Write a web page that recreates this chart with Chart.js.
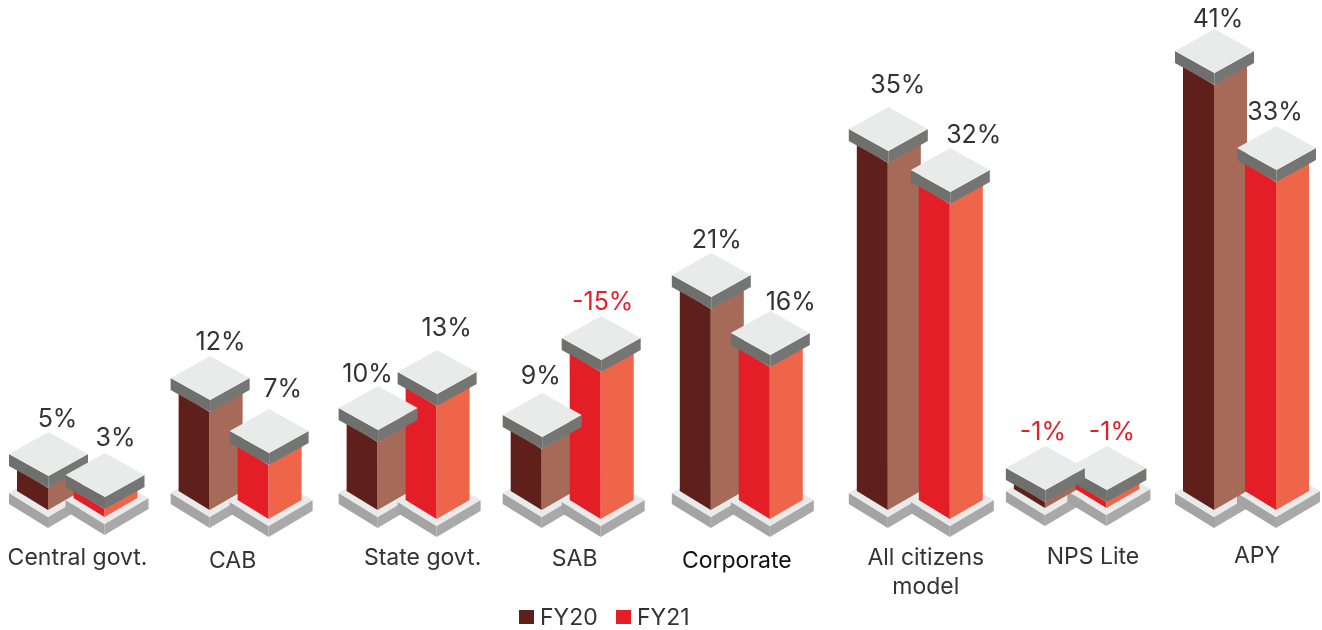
<!DOCTYPE html>
<html>
<head>
<meta charset="utf-8">
<title>FY20 / FY21 growth by sector</title>
<script src="https://cdn.jsdelivr.net/npm/chart.js@4"></script>
<style>
  html, body { margin: 0; padding: 0; background: #fff; }
  canvas { display: block; }
</style>
</head>
<body>
<canvas id="growthChart" width="1322" height="630"></canvas>
<script>
// Chart data
const categories = ['Central govt.', 'CAB', 'State govt.', 'SAB', 'Corporate', ['All citizens', 'model'], 'NPS Lite', 'APY'];
const seriesNames = ['FY20', 'FY21'];

// Printed labels
const fy20Labels = [5, 12, 10, 9, 21, 35, -1, 41];
const fy21Labels = [3, 7, 13, -15, 16, 32, -1, 33];

// Column heights as drawn in the picture (they do not follow the labels exactly)
const fy20Heights = [2.2, 9.8, 6.8, 6.1, 20.1, 34.7, 0.6, 42.5];
const fy21Heights = [0.8, 5.4, 11.3, 14.7, 15.2, 31.5, 0.6, 32.8];

// Hand placement, the original layout is not evenly spaced
const fy20ShiftX = [1.5, -3.9, -2.9, -5.8, -3.7, 6.3, -3.6, -1.5];
const fy21ShiftX = [-1, -3.9, -2.9, -5.8, -3.7, 9.3, -1.1, 1.5];
const fy20ShiftY = [0, 0, 0, 0, 0, 0, -2, 0];
const fy21ShiftY = [7, 9, 9, 9, 9, 9, -2, 0];
const fy20LabelPos = [[9.5, -13], [11, -14], [-10, -12], [-1, -17], [6, -13], [10, -22], [-2, -14], [4, -10]];
const fy21LabelPos = [[11, -15], [14, -20], [10, -22], [2, -14], [21, -9], [24, -13], [5.5, -14], [-1, -14]];
const tickShiftX = [1.5, -10.4, 12.6, -2.3, -7.2, 14.8, 14.9, 12];
const tickY = [558, 561, 558, 559, 561, 558, 557, 556];

const fontName = 'Inter, Roboto, sans-serif';
const textColor = '#333333';
const negativeColor = '#e5202a';
const fy20Faces = ['#5f201b', '#a66a58'];
const fy21Faces = ['#e31e26', '#ee654a'];

function poly(ctx, color, pts) {
  ctx.fillStyle = color;
  ctx.beginPath();
  pts.forEach((p, i) => (i ? ctx.lineTo(p[0], p[1]) : ctx.moveTo(p[0], p[1])));
  ctx.closePath();
  ctx.fill();
}

// Ground plate under one column, (x, base) is the foot of the front edge
function drawPlate(ctx, x, base) {
  const left = 39, right = 44, riseL = 24, riseR = 26, t = 11, top = base + 7;
  poly(ctx, '#a4a4a4', [[x - left, top - riseL], [x, top], [x, top + t], [x - left, top - riseL + t]]);
  poly(ctx, '#a9a9a9', [[x + right, top - riseR], [x, top], [x, top + t], [x + right, top - riseR + t]]);
  poly(ctx, '#e9ebea', [[x - left, top - riseL], [x + 2.5, top - 50], [x + right, top - riseR], [x, top]]);
}

function drawFaces(ctx, x, y, base, faces) {
  const left = 31, right = 33, rise = 19;
  poly(ctx, faces[0], [[x - left, base - rise], [x, base], [x, y], [x - left, y - rise]]);
  poly(ctx, faces[1], [[x + right, base - rise], [x, base], [x, y], [x + right, y - rise]]);
}

// Grey slab on top of a column, (x, y) is the lowest point of the slab
function drawCap(ctx, x, y) {
  const hw = 39.5, hh = 22, t = 12, front = y - t;
  const cx = x + 0.5;
  poly(ctx, '#6f706d', [[cx - hw, front - hh], [cx, front], [cx, y], [cx - hw, front - hh + t]]);
  poly(ctx, '#757673', [[cx + hw, front - hh], [cx, front], [cx, y], [cx + hw, front - hh + t]]);
  poly(ctx, '#e9ebea', [[cx - hw, front - hh], [cx, front - 2 * hh], [cx + hw, front - hh], [cx, front]]);
}

function drawValueLabel(ctx, value, x, capTop) {
  ctx.fillStyle = value < 0 ? negativeColor : textColor;
  ctx.fillText(value + '%', x, capTop);
}

const isoBars = {
  id: 'isoBars',
  // the library still lays the bars out, only the painting is done below
  beforeDatasetDraw() {
    return false;
  },
  afterDatasetsDraw(chart) {
    const ctx = chart.ctx;
    const a = chart.getDatasetMeta(0).data;
    const b = chart.getDatasetMeta(1).data;
    ctx.save();
    categories.forEach((cat, i) => {
      const x1 = a[i].x + fy20ShiftX[i], y1 = a[i].y + fy20ShiftY[i], base1 = a[i].base + fy20ShiftY[i];
      const x2 = b[i].x + fy21ShiftX[i], y2 = b[i].y + fy21ShiftY[i], base2 = b[i].base + fy21ShiftY[i];
      drawPlate(ctx, x1, base1);
      drawPlate(ctx, x2, base2);
      drawFaces(ctx, x1, y1, base1, fy20Faces);
      drawFaces(ctx, x2, y2, base2, fy21Faces);
      // the slab lower on the page sits in front, FY20 wins a tie
      if (y2 > y1) {
        drawCap(ctx, x1, y1);
        drawCap(ctx, x2, y2);
      } else {
        drawCap(ctx, x2, y2);
        drawCap(ctx, x1, y1);
      }
      ctx.font = '25px ' + fontName;
      ctx.textAlign = 'center';
      ctx.textBaseline = 'middle';
      drawValueLabel(ctx, fy20Labels[i], x1 + fy20LabelPos[i][0], y1 - 56 + fy20LabelPos[i][1]);
      drawValueLabel(ctx, fy21Labels[i], x2 + fy21LabelPos[i][0], y2 - 56 + fy21LabelPos[i][1]);

      // Category name
      const lines = Array.isArray(cat) ? cat : [cat];
      ctx.font = '23px ' + fontName;
      ctx.fillStyle = i === 4 ? '#111111' : textColor;
      const tx = chart.scales.x.getPixelForValue(i) + tickShiftX[i];
      lines.forEach((line, n) => ctx.fillText(line, tx, tickY[i] + n * 29));
    });

    // Legend
    ctx.font = '23px ' + fontName;
    ctx.textAlign = 'left';
    [[519, 540], [616, 637]].forEach((pos, n) => {
      ctx.fillStyle = chart.data.datasets[n].backgroundColor;
      ctx.fillRect(pos[0], 610, 15, 14);
      ctx.fillStyle = textColor;
      ctx.fillText(chart.data.datasets[n].label, pos[1], 618);
    });
    ctx.restore();
  }
};

new Chart(document.getElementById('growthChart').getContext('2d'), {
  type: 'bar',
  data: {
    labels: categories,
    datasets: [
      { label: seriesNames[0], data: fy20Heights, backgroundColor: fy20Faces[0], barThickness: 59 },
      { label: seriesNames[1], data: fy21Heights, backgroundColor: fy21Faces[0], barThickness: 59 }
    ]
  },
  plugins: [isoBars],
  options: {
    responsive: false,
    animation: false,
    layout: { padding: { left: 76, right: 77 } },
    plugins: {
      legend: { display: false },
      tooltip: { enabled: false }
    },
    scales: {
      x: { display: false, offset: false, grid: { display: false } },
      y: { display: false, min: -12, max: 51, grid: { display: false } }
    }
  }
});
</script>
</body>
</html>
